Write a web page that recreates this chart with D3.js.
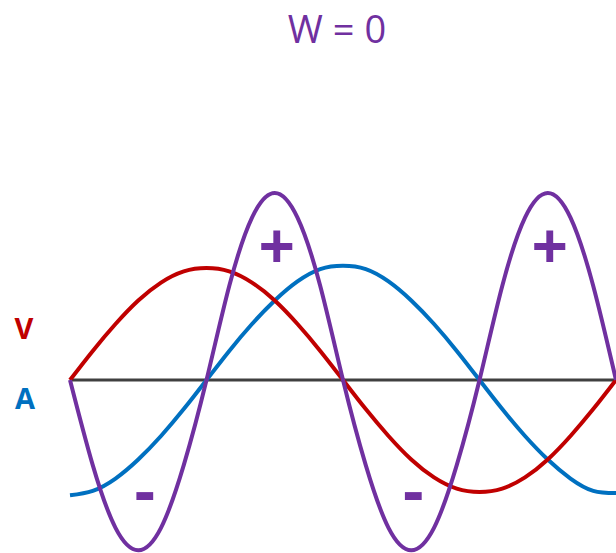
<!DOCTYPE html>
<html>
<head>
<meta charset="utf-8">
<script src="https://cdn.jsdelivr.net/npm/d3@7"></script>
<style>
  html, body { margin: 0; padding: 0; background: #fff; }
  svg { display: block; }
</style>
</head>
<body>
<svg width="616" height="553"></svg>
<script>
// 相位角 (度)
const phase = [0, 15, 30, 45, 60, 75, 90, 105, 120, 135, 150, 165, 180,
               195, 210, 225, 240, 255, 270, 285, 300, 315, 330, 345, 360];

// V (紅)
const vValues = [0, 0.26, 0.5, 0.71, 0.87, 0.97, 1, 0.97, 0.87, 0.71, 0.5, 0.26, 0,
                 -0.26, -0.5, -0.71, -0.87, -0.97, -1, -0.97, -0.87, -0.71, -0.5, -0.26, 0];

// A (藍)
const aValues = [-1.03, -0.99, -0.88, -0.71, -0.5, -0.26, 0, 0.26, 0.5, 0.71, 0.88, 0.99, 1.02,
                 0.99, 0.88, 0.71, 0.5, 0.26, 0, -0.26, -0.5, -0.71, -0.88, -0.99, -1.01];

// W (紫)
const wValues = [0, -0.76, -1.32, -1.52, -1.32, -0.76, 0, 0.84, 1.45, 1.67, 1.45, 0.84, 0,
                 -0.76, -1.32, -1.52, -1.32, -0.76, 0, 0.84, 1.45, 1.67, 1.45, 0.84, 0];

const title = 'W = 0';
const signLabels = [
    { text: '+', at: 135 },
    { text: '+', at: 315 },
    { text: '-', at: 48 },
    { text: '-', at: 225 }
];

function render() {
    const svg = d3.select('svg');

    const x = d3.scaleLinear()
        .domain([0, 360])
        .range([70, 616]);

    const y = d3.scaleLinear()
        .domain([-1, 1])
        .range([492, 268]);

    const line = d3.line()
        .x(d => x(d[0]))
        .y(d => y(d[1]))
        .curve(d3.curveNatural);

    // 標題
    svg.append('text')
        .text(title)
        .attr('x', 337)
        .attr('y', 43)
        .attr('text-anchor', 'middle')
        .style('font-family', '"Open Sans", sans-serif')
        .style('font-size', '38px')
        .attr('fill', '#7030A0');

    // 橫軸
    svg.append('line')
        .attr('x1', x(0))
        .attr('x2', x(360))
        .attr('y1', y(0))
        .attr('y2', y(0))
        .attr('stroke', '#404040')
        .attr('stroke-width', 3);

    const series = [
        { values: aValues, color: '#0070C0' },
        { values: vValues, color: '#C00000' },
        { values: wValues, color: '#7030A0' }
    ];

    series.forEach(s => {
        svg.append('path')
            .datum(phase.map((p, i) => [p, s.values[i]]))
            .attr('d', line)
            .attr('fill', 'none')
            .attr('stroke', s.color)
            .attr('stroke-width', 4);
    });

    // V / A 標籤
    svg.append('text')
        .text('V')
        .attr('x', 24)
        .attr('y', 339)
        .attr('text-anchor', 'middle')
        .style('font-family', '"Open Sans", sans-serif')
        .style('font-weight', 'bold')
        .style('font-size', '29px')
        .attr('fill', '#C00000');

    svg.append('text')
        .text('A')
        .attr('x', 25)
        .attr('y', 409)
        .attr('text-anchor', 'middle')
        .style('font-family', '"Open Sans", sans-serif')
        .style('font-weight', 'bold')
        .style('font-size', '29px')
        .attr('fill', '#0070C0');

    // 正負號
    svg.selectAll('text.sign')
        .data(signLabels)
        .enter()
        .append('text')
        .attr('class', 'sign')
        .text(d => d.text)
        .attr('x', d => x(d.at) + 2)
        .attr('y', d => d.text === '+' ? 269 : 513)
        .attr('text-anchor', 'middle')
        .style('font-family', '"Open Sans", sans-serif')
        .style('font-weight', 'bold')
        .style('font-size', '64px')
        .attr('fill', '#7030A0');
}

render();
</script>
</body>
</html>
